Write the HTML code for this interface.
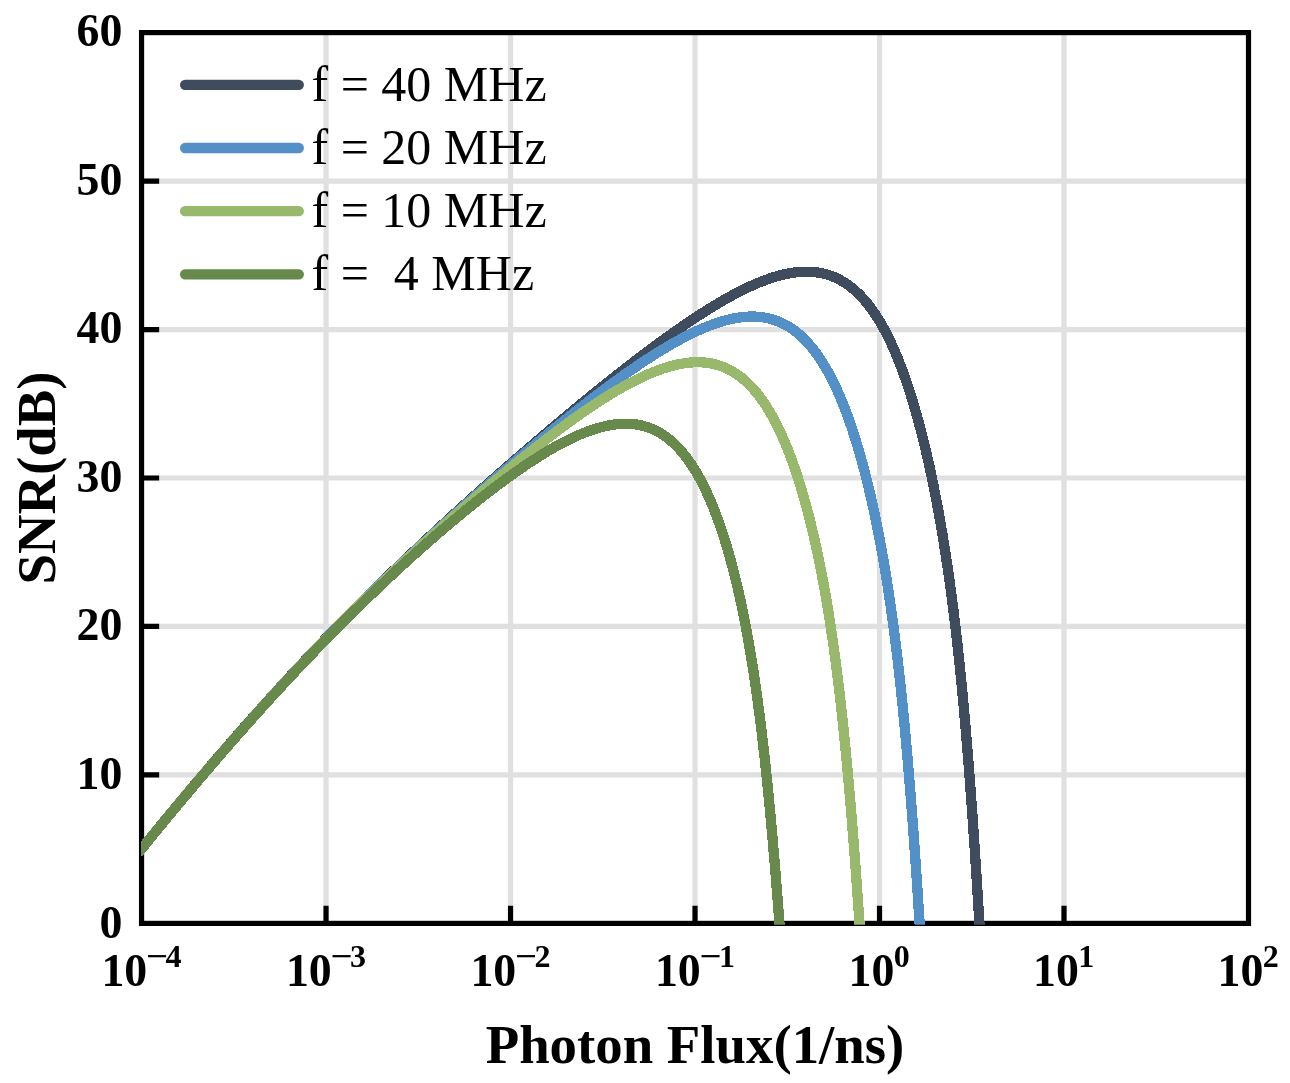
<!DOCTYPE html>
<html><head><meta charset="utf-8"><title>SNR vs Photon Flux</title>
<style>html,body{margin:0;padding:0;background:#fff}svg{display:block}text{font-family:"Liberation Serif","DejaVu Serif",serif}</style></head><body>
<svg width="1290" height="1083" viewBox="0 0 1290 1083">
<rect width="1290" height="1083" fill="#fff"/>
<path d="M326.04,32.60 V923.40 M510.53,32.60 V923.40 M695.03,32.60 V923.40 M879.52,32.60 V923.40 M1064.01,32.60 V923.40 M141.55,774.93 H1248.50 M141.55,626.47 H1248.50 M141.55,478.00 H1248.50 M141.55,329.53 H1248.50 M141.55,181.07 H1248.50" stroke="#e0e0e0" stroke-width="5.20" fill="none"/>
<path d="M326.04,923.40 v-17.60 M510.53,923.40 v-17.60 M695.03,923.40 v-17.60 M879.52,923.40 v-17.60 M1064.01,923.40 v-17.60 M141.55,774.93 h17.60 M141.55,626.47 h17.60 M141.55,478.00 h17.60 M141.55,329.53 h17.60 M141.55,181.07 h17.60" stroke="#000" stroke-width="5.20" fill="none"/>
<rect x="141.55" y="32.60" width="1106.95" height="890.80" fill="none" stroke="#000" stroke-width="5.20"/>
<defs><clipPath id="c"><rect x="141.20" y="32.60" width="1107.30" height="892.20"/></clipPath></defs>
<g clip-path="url(#c)" fill="none" stroke-width="10.30" stroke-linejoin="round" shape-rendering="crispEdges">
<path d="M137.86,853.38 L143.46,846.47 L149.05,839.58 L154.65,832.73 L160.25,825.90 L165.84,819.10 L171.44,812.33 L177.03,805.59 L182.63,798.88 L188.23,792.20 L193.82,785.55 L199.42,778.93 L205.02,772.35 L210.61,765.79 L216.21,759.26 L221.80,752.77 L227.40,746.31 L233.00,739.88 L238.59,733.49 L244.19,727.13 L249.79,720.80 L255.38,714.51 L260.98,708.25 L266.57,702.03 L272.17,695.84 L277.77,689.69 L283.36,683.57 L288.96,677.49 L294.56,671.45 L300.15,665.45 L305.75,659.48 L311.34,653.55 L316.94,647.66 L322.54,641.80 L328.13,635.99 L333.73,630.21 L339.33,624.48 L344.92,618.78 L350.52,613.12 L356.11,607.49 L361.71,601.90 L367.31,596.35 L372.90,590.82 L378.50,585.34 L384.10,579.88 L389.69,574.46 L395.29,569.06 L400.88,563.70 L406.48,558.37 L412.08,553.06 L417.67,547.79 L423.27,542.54 L428.87,537.32 L434.46,532.13 L440.06,526.96 L445.65,521.82 L451.25,516.70 L456.85,511.61 L462.44,506.54 L468.04,501.49 L473.63,496.47 L474.47,495.72 L475.31,494.97 L476.15,494.22 L476.98,493.47 L477.82,492.72 L478.66,491.98 L479.50,491.23 L480.33,490.48 L481.17,489.74 L482.01,488.99 L482.85,488.25 L483.68,487.50 L484.52,486.76 L485.36,486.01 L486.19,485.27 L487.03,484.53 L487.87,483.79 L488.71,483.04 L489.54,482.30 L490.38,481.56 L491.22,480.82 L492.06,480.08 L492.89,479.34 L493.73,478.60 L494.57,477.86 L495.40,477.13 L496.24,476.39 L497.08,475.65 L497.92,474.92 L498.75,474.18 L499.59,473.44 L500.43,472.71 L501.27,471.97 L502.10,471.24 L502.94,470.50 L503.78,469.77 L504.61,469.04 L505.45,468.30 L506.29,467.57 L507.13,466.84 L507.96,466.11 L508.80,465.38 L509.64,464.65 L510.48,463.92 L511.31,463.19 L512.15,462.46 L512.99,461.73 L513.82,461.00 L514.66,460.27 L515.50,459.55 L516.34,458.82 L517.17,458.09 L518.01,457.37 L518.85,456.64 L519.69,455.91 L520.52,455.19 L521.36,454.47 L522.20,453.74 L523.03,453.02 L523.87,452.29 L524.71,451.57 L525.55,450.85 L526.38,450.13 L527.22,449.41 L528.06,448.69 L528.90,447.96 L529.73,447.24 L530.57,446.53 L531.41,445.81 L532.25,445.09 L533.08,444.37 L533.92,443.65 L534.76,442.93 L535.59,442.22 L536.43,441.50 L537.27,440.79 L538.11,440.07 L538.94,439.35 L539.78,438.64 L540.62,437.93 L541.46,437.21 L542.29,436.50 L543.13,435.79 L543.97,435.07 L544.80,434.36 L545.64,433.65 L546.48,432.94 L547.32,432.23 L548.15,431.52 L548.99,430.81 L549.83,430.10 L550.67,429.40 L551.50,428.69 L552.34,427.98 L553.18,427.27 L554.01,426.57 L554.85,425.86 L555.69,425.16 L556.53,424.45 L557.36,423.75 L558.20,423.04 L559.04,422.34 L559.88,421.64 L560.71,420.94 L561.55,420.23 L562.39,419.53 L563.22,418.83 L564.06,418.13 L564.90,417.43 L565.74,416.73 L566.57,416.04 L567.41,415.34 L568.25,414.64 L569.09,413.94 L569.92,413.25 L570.76,412.55 L571.60,411.86 L572.43,411.16 L573.27,410.47 L574.11,409.77 L574.95,409.08 L575.78,408.39 L576.62,407.70 L577.46,407.00 L578.30,406.31 L579.13,405.62 L579.97,404.93 L580.81,404.24 L581.64,403.56 L582.48,402.87 L583.32,402.18 L584.16,401.49 L584.99,400.81 L585.83,400.12 L586.67,399.44 L587.51,398.75 L588.34,398.07 L589.18,397.39 L590.02,396.70 L590.86,396.02 L591.69,395.34 L592.53,394.66 L593.37,393.98 L594.20,393.30 L595.04,392.62 L595.88,391.95 L596.72,391.27 L597.55,390.59 L598.39,389.92 L599.23,389.24 L600.07,388.56 L600.90,387.89 L601.74,387.22 L602.58,386.54 L603.41,385.87 L604.25,385.20 L605.09,384.53 L605.93,383.86 L606.76,383.19 L607.60,382.52 L608.44,381.85 L609.28,381.19 L610.11,380.52 L610.95,379.86 L611.79,379.19 L612.62,378.53 L613.46,377.86 L614.30,377.20 L615.14,376.54 L615.97,375.88 L616.81,375.22 L617.65,374.56 L618.49,373.90 L619.32,373.24 L620.16,372.58 L621.00,371.93 L621.83,371.27 L622.67,370.61 L623.51,369.96 L624.35,369.31 L625.18,368.65 L626.02,368.00 L626.86,367.35 L627.70,366.70 L628.53,366.05 L629.37,365.40 L630.21,364.76 L631.04,364.11 L631.88,363.46 L632.72,362.82 L633.56,362.17 L634.39,361.53 L635.23,360.89 L636.07,360.25 L636.91,359.61 L637.74,358.97 L638.58,358.33 L639.42,357.69 L640.25,357.05 L641.09,356.42 L641.93,355.78 L642.77,355.15 L643.60,354.52 L644.44,353.88 L645.28,353.25 L646.12,352.62 L646.95,351.99 L647.79,351.36 L648.63,350.74 L649.47,350.11 L650.30,349.49 L651.14,348.86 L651.98,348.24 L652.81,347.62 L653.65,347.00 L654.49,346.38 L655.33,345.76 L656.16,345.14 L657.00,344.53 L657.84,343.91 L658.68,343.30 L659.51,342.68 L660.35,342.07 L661.19,341.46 L662.02,340.85 L662.86,340.24 L663.70,339.64 L664.54,339.03 L665.37,338.43 L666.21,337.82 L667.05,337.22 L667.89,336.62 L668.72,336.02 L669.56,335.42 L670.40,334.82 L671.23,334.23 L672.07,333.63 L672.91,333.04 L673.75,332.45 L674.58,331.86 L675.42,331.27 L676.26,330.68 L677.10,330.09 L677.93,329.51 L678.77,328.93 L679.61,328.34 L680.44,327.76 L681.28,327.18 L682.12,326.61 L682.96,326.03 L683.79,325.45 L684.63,324.88 L685.47,324.31 L686.31,323.74 L687.14,323.17 L687.98,322.60 L688.82,322.04 L689.65,321.47 L690.49,320.91 L691.33,320.35 L692.17,319.79 L693.00,319.24 L693.84,318.68 L694.68,318.13 L695.52,317.57 L696.35,317.02 L697.19,316.47 L698.03,315.93 L698.86,315.38 L699.70,314.84 L700.54,314.30 L701.38,313.76 L702.21,313.22 L703.05,312.68 L703.89,312.15 L704.73,311.62 L705.56,311.09 L706.40,310.56 L707.24,310.03 L708.08,309.51 L708.91,308.99 L709.75,308.47 L710.59,307.95 L711.42,307.44 L712.26,306.92 L713.10,306.41 L713.94,305.90 L714.77,305.39 L715.61,304.89 L716.45,304.39 L717.29,303.89 L718.12,303.39 L718.96,302.89 L719.80,302.40 L720.63,301.91 L721.47,301.42 L722.31,300.94 L723.15,300.45 L723.98,299.97 L724.82,299.49 L725.66,299.02 L726.50,298.55 L727.33,298.08 L728.17,297.61 L729.01,297.14 L729.84,296.68 L730.68,296.22 L731.52,295.76 L732.36,295.31 L733.19,294.86 L734.03,294.41 L734.87,293.96 L735.71,293.52 L736.54,293.08 L737.38,292.65 L738.22,292.21 L739.05,291.78 L739.89,291.36 L740.73,290.93 L741.57,290.51 L742.40,290.09 L743.24,289.68 L744.08,289.27 L744.92,288.86 L745.75,288.46 L746.59,288.05 L747.43,287.66 L748.26,287.26 L749.10,286.87 L749.94,286.49 L750.78,286.10 L751.61,285.72 L752.45,285.35 L753.29,284.98 L754.13,284.61 L754.96,284.24 L755.80,283.88 L756.64,283.53 L757.47,283.18 L758.31,282.83 L759.15,282.48 L759.99,282.14 L760.82,281.81 L761.66,281.48 L762.50,281.15 L763.34,280.83 L764.17,280.51 L765.01,280.19 L765.85,279.89 L766.69,279.58 L767.52,279.28 L768.36,278.98 L769.20,278.69 L770.03,278.41 L770.87,278.13 L771.71,277.85 L772.55,277.58 L773.38,277.31 L774.22,277.05 L775.06,276.80 L775.90,276.55 L776.73,276.30 L777.57,276.06 L778.41,275.83 L779.24,275.60 L780.08,275.38 L780.92,275.16 L781.76,274.95 L782.59,274.74 L783.43,274.54 L784.27,274.35 L785.11,274.16 L785.94,273.98 L786.78,273.81 L787.62,273.64 L788.45,273.47 L789.29,273.32 L790.13,273.17 L790.97,273.02 L791.80,272.89 L792.64,272.76 L793.48,272.64 L794.32,272.52 L795.15,272.41 L795.99,272.31 L796.83,272.21 L797.66,272.13 L798.50,272.05 L799.34,271.98 L800.18,271.91 L801.01,271.85 L801.85,271.81 L802.69,271.76 L803.53,271.73 L804.36,271.71 L805.20,271.69 L806.04,271.68 L806.87,271.68 L807.71,271.69 L808.55,271.71 L809.39,271.73 L810.22,271.77 L811.06,271.81 L811.90,271.87 L812.74,271.93 L813.57,272.00 L814.41,272.08 L815.25,272.17 L816.09,272.28 L816.92,272.39 L817.76,272.51 L818.60,272.64 L819.43,272.78 L820.27,272.93 L821.11,273.09 L821.95,273.27 L822.78,273.45 L823.62,273.65 L824.46,273.85 L825.30,274.07 L826.13,274.30 L826.97,274.54 L827.81,274.79 L828.64,275.06 L829.48,275.33 L830.32,275.62 L831.16,275.92 L831.99,276.24 L832.83,276.56 L833.67,276.90 L834.51,277.25 L835.34,277.62 L836.18,278.00 L837.02,278.39 L837.85,278.80 L838.69,279.22 L839.53,279.65 L840.37,280.10 L841.20,280.57 L842.04,281.04 L842.88,281.54 L843.72,282.04 L844.55,282.57 L845.39,283.11 L846.23,283.66 L847.06,284.23 L847.90,284.82 L848.74,285.42 L849.58,286.04 L850.41,286.68 L851.25,287.33 L852.09,288.01 L852.93,288.69 L853.76,289.40 L854.60,290.13 L855.44,290.87 L856.27,291.63 L857.11,292.41 L857.95,293.21 L858.79,294.02 L859.62,294.86 L860.46,295.72 L861.30,296.59 L862.14,297.49 L862.97,298.41 L863.81,299.35 L864.65,300.31 L865.48,301.29 L866.32,302.29 L867.16,303.31 L868.00,304.36 L868.83,305.42 L869.67,306.52 L870.51,307.63 L871.35,308.77 L872.18,309.93 L873.02,311.11 L873.86,312.32 L874.70,313.55 L875.53,314.81 L876.37,316.09 L877.21,317.40 L878.04,318.73 L878.88,320.09 L879.72,321.48 L880.56,322.89 L881.39,324.33 L882.23,325.80 L883.07,327.29 L883.91,328.82 L884.74,330.37 L885.58,331.95 L886.42,333.56 L887.25,335.20 L888.09,336.87 L888.93,338.57 L889.77,340.30 L890.60,342.06 L891.44,343.85 L892.28,345.67 L893.12,347.53 L893.95,349.42 L894.79,351.34 L895.63,353.30 L896.46,355.29 L897.30,357.31 L898.14,359.37 L898.98,361.46 L899.81,363.59 L900.65,365.76 L901.49,367.96 L902.33,370.20 L903.16,372.48 L904.00,374.79 L904.84,377.15 L905.67,379.54 L906.51,381.97 L907.35,384.45 L908.19,386.96 L909.02,389.51 L909.86,392.11 L910.70,394.75 L911.54,397.43 L912.37,400.16 L913.21,402.93 L914.05,405.74 L914.88,408.60 L915.72,411.51 L916.56,414.46 L917.40,417.46 L918.23,420.51 L919.07,423.61 L919.91,426.76 L920.75,429.96 L921.58,433.21 L922.42,436.52 L923.26,439.87 L924.09,443.29 L924.93,446.75 L925.77,450.28 L926.61,453.86 L927.44,457.50 L928.28,461.20 L929.12,464.96 L929.96,468.79 L930.79,472.68 L931.63,476.63 L932.47,480.65 L933.31,484.75 L934.14,488.91 L934.98,493.14 L935.82,497.45 L936.65,501.83 L937.49,506.30 L938.33,510.84 L939.17,515.47 L940.00,520.18 L940.84,524.98 L941.68,529.88 L942.52,534.87 L943.35,539.95 L944.19,545.14 L945.03,550.44 L945.86,555.84 L946.70,561.36 L947.54,566.99 L948.38,572.75 L949.21,578.63 L950.05,584.65 L950.89,590.80 L951.73,597.09 L952.56,603.54 L953.40,610.14 L954.24,616.90 L955.07,623.83 L955.91,630.93 L956.75,638.21 L957.59,645.68 L958.42,653.34 L959.26,661.20 L960.10,669.27 L960.94,677.56 L961.77,686.06 L962.61,694.79 L963.45,703.75 L964.28,712.95 L965.12,722.39 L965.96,732.08 L966.80,742.02 L967.63,752.22 L968.47,762.67 L969.31,773.38 L970.15,784.35 L970.98,795.59 L971.82,807.09 L972.66,818.85 L973.49,830.88 L974.33,843.17 L975.17,855.71 L976.01,868.52 L976.84,881.58 L977.68,894.90 L978.52,908.47 L979.36,922.29 L980.19,936.35 L981.03,950.65 L981.87,965.20" stroke="#3f4c5e"/>
<path d="M137.86,853.39 L143.46,846.48 L149.05,839.60 L154.65,832.74 L160.25,825.92 L165.84,819.12 L171.44,812.35 L177.03,805.61 L182.63,798.90 L188.23,792.23 L193.82,785.58 L199.42,778.96 L205.02,772.37 L210.61,765.82 L216.21,759.30 L221.80,752.81 L227.40,746.35 L233.00,739.92 L238.59,733.53 L244.19,727.17 L249.79,720.85 L255.38,714.56 L260.98,708.31 L266.57,702.09 L272.17,695.91 L277.77,689.76 L283.36,683.65 L288.96,677.57 L294.56,671.54 L300.15,665.54 L305.75,659.58 L311.34,653.65 L316.94,647.77 L322.54,641.93 L328.13,636.12 L333.73,630.36 L339.33,624.63 L344.92,618.94 L350.52,613.29 L356.11,607.68 L361.71,602.10 L367.31,596.56 L372.90,591.05 L378.50,585.58 L384.10,580.14 L389.69,574.74 L395.29,569.37 L400.88,564.03 L406.48,558.72 L412.08,553.44 L417.67,548.19 L423.27,542.97 L428.87,537.78 L434.46,532.62 L440.06,527.49 L445.65,522.39 L451.25,517.31 L456.85,512.26 L462.44,507.24 L468.04,502.24 L473.63,497.28 L474.47,496.53 L475.31,495.79 L476.15,495.05 L476.98,494.31 L477.82,493.57 L478.66,492.84 L479.50,492.10 L480.33,491.36 L481.17,490.62 L482.01,489.89 L482.85,489.15 L483.68,488.42 L484.52,487.68 L485.36,486.95 L486.19,486.22 L487.03,485.48 L487.87,484.75 L488.71,484.02 L489.54,483.29 L490.38,482.56 L491.22,481.83 L492.06,481.10 L492.89,480.37 L493.73,479.64 L494.57,478.92 L495.40,478.19 L496.24,477.46 L497.08,476.74 L497.92,476.01 L498.75,475.29 L499.59,474.56 L500.43,473.84 L501.27,473.12 L502.10,472.39 L502.94,471.67 L503.78,470.95 L504.61,470.23 L505.45,469.51 L506.29,468.79 L507.13,468.07 L507.96,467.35 L508.80,466.64 L509.64,465.92 L510.48,465.20 L511.31,464.49 L512.15,463.77 L512.99,463.06 L513.82,462.34 L514.66,461.63 L515.50,460.92 L516.34,460.20 L517.17,459.49 L518.01,458.78 L518.85,458.07 L519.69,457.36 L520.52,456.65 L521.36,455.94 L522.20,455.23 L523.03,454.52 L523.87,453.82 L524.71,453.11 L525.55,452.40 L526.38,451.70 L527.22,450.99 L528.06,450.29 L528.90,449.59 L529.73,448.88 L530.57,448.18 L531.41,447.48 L532.25,446.78 L533.08,446.08 L533.92,445.38 L534.76,444.68 L535.59,443.98 L536.43,443.28 L537.27,442.59 L538.11,441.89 L538.94,441.20 L539.78,440.50 L540.62,439.81 L541.46,439.11 L542.29,438.42 L543.13,437.73 L543.97,437.04 L544.80,436.35 L545.64,435.66 L546.48,434.97 L547.32,434.28 L548.15,433.59 L548.99,432.90 L549.83,432.22 L550.67,431.53 L551.50,430.85 L552.34,430.16 L553.18,429.48 L554.01,428.80 L554.85,428.11 L555.69,427.43 L556.53,426.75 L557.36,426.07 L558.20,425.39 L559.04,424.72 L559.88,424.04 L560.71,423.36 L561.55,422.69 L562.39,422.01 L563.22,421.34 L564.06,420.66 L564.90,419.99 L565.74,419.32 L566.57,418.65 L567.41,417.98 L568.25,417.31 L569.09,416.64 L569.92,415.97 L570.76,415.31 L571.60,414.64 L572.43,413.98 L573.27,413.31 L574.11,412.65 L574.95,411.99 L575.78,411.33 L576.62,410.67 L577.46,410.01 L578.30,409.35 L579.13,408.69 L579.97,408.03 L580.81,407.38 L581.64,406.72 L582.48,406.07 L583.32,405.42 L584.16,404.77 L584.99,404.11 L585.83,403.46 L586.67,402.82 L587.51,402.17 L588.34,401.52 L589.18,400.88 L590.02,400.23 L590.86,399.59 L591.69,398.94 L592.53,398.30 L593.37,397.66 L594.20,397.02 L595.04,396.38 L595.88,395.75 L596.72,395.11 L597.55,394.47 L598.39,393.84 L599.23,393.21 L600.07,392.58 L600.90,391.94 L601.74,391.32 L602.58,390.69 L603.41,390.06 L604.25,389.43 L605.09,388.81 L605.93,388.19 L606.76,387.56 L607.60,386.94 L608.44,386.32 L609.28,385.70 L610.11,385.09 L610.95,384.47 L611.79,383.85 L612.62,383.24 L613.46,382.63 L614.30,382.02 L615.14,381.41 L615.97,380.80 L616.81,380.19 L617.65,379.59 L618.49,378.98 L619.32,378.38 L620.16,377.78 L621.00,377.18 L621.83,376.58 L622.67,375.98 L623.51,375.39 L624.35,374.79 L625.18,374.20 L626.02,373.61 L626.86,373.02 L627.70,372.43 L628.53,371.84 L629.37,371.26 L630.21,370.68 L631.04,370.09 L631.88,369.51 L632.72,368.93 L633.56,368.36 L634.39,367.78 L635.23,367.21 L636.07,366.64 L636.91,366.07 L637.74,365.50 L638.58,364.93 L639.42,364.37 L640.25,363.80 L641.09,363.24 L641.93,362.68 L642.77,362.12 L643.60,361.57 L644.44,361.01 L645.28,360.46 L646.12,359.91 L646.95,359.36 L647.79,358.81 L648.63,358.27 L649.47,357.73 L650.30,357.19 L651.14,356.65 L651.98,356.11 L652.81,355.58 L653.65,355.04 L654.49,354.51 L655.33,353.98 L656.16,353.46 L657.00,352.93 L657.84,352.41 L658.68,351.89 L659.51,351.38 L660.35,350.86 L661.19,350.35 L662.02,349.84 L662.86,349.33 L663.70,348.82 L664.54,348.32 L665.37,347.82 L666.21,347.32 L667.05,346.83 L667.89,346.33 L668.72,345.84 L669.56,345.35 L670.40,344.87 L671.23,344.38 L672.07,343.90 L672.91,343.43 L673.75,342.95 L674.58,342.48 L675.42,342.01 L676.26,341.54 L677.10,341.08 L677.93,340.62 L678.77,340.16 L679.61,339.70 L680.44,339.25 L681.28,338.80 L682.12,338.35 L682.96,337.91 L683.79,337.47 L684.63,337.03 L685.47,336.60 L686.31,336.17 L687.14,335.74 L687.98,335.32 L688.82,334.90 L689.65,334.48 L690.49,334.06 L691.33,333.65 L692.17,333.25 L693.00,332.84 L693.84,332.44 L694.68,332.05 L695.52,331.65 L696.35,331.26 L697.19,330.88 L698.03,330.50 L698.86,330.12 L699.70,329.74 L700.54,329.37 L701.38,329.01 L702.21,328.65 L703.05,328.29 L703.89,327.93 L704.73,327.58 L705.56,327.24 L706.40,326.90 L707.24,326.56 L708.08,326.23 L708.91,325.90 L709.75,325.58 L710.59,325.26 L711.42,324.94 L712.26,324.63 L713.10,324.33 L713.94,324.03 L714.77,323.73 L715.61,323.44 L716.45,323.15 L717.29,322.87 L718.12,322.60 L718.96,322.33 L719.80,322.06 L720.63,321.80 L721.47,321.55 L722.31,321.30 L723.15,321.05 L723.98,320.81 L724.82,320.58 L725.66,320.35 L726.50,320.13 L727.33,319.92 L728.17,319.71 L729.01,319.50 L729.84,319.31 L730.68,319.12 L731.52,318.93 L732.36,318.75 L733.19,318.58 L734.03,318.41 L734.87,318.25 L735.71,318.10 L736.54,317.95 L737.38,317.81 L738.22,317.68 L739.05,317.56 L739.89,317.44 L740.73,317.33 L741.57,317.22 L742.40,317.13 L743.24,317.04 L744.08,316.95 L744.92,316.88 L745.75,316.81 L746.59,316.76 L747.43,316.70 L748.26,316.66 L749.10,316.63 L749.94,316.60 L750.78,316.58 L751.61,316.58 L752.45,316.57 L753.29,316.58 L754.13,316.60 L754.96,316.63 L755.80,316.66 L756.64,316.70 L757.47,316.76 L758.31,316.82 L759.15,316.89 L759.99,316.97 L760.82,317.07 L761.66,317.17 L762.50,317.28 L763.34,317.40 L764.17,317.53 L765.01,317.68 L765.85,317.83 L766.69,318.00 L767.52,318.17 L768.36,318.36 L769.20,318.55 L770.03,318.76 L770.87,318.98 L771.71,319.22 L772.55,319.46 L773.38,319.72 L774.22,319.98 L775.06,320.26 L775.90,320.56 L776.73,320.86 L777.57,321.18 L778.41,321.51 L779.24,321.85 L780.08,322.21 L780.92,322.58 L781.76,322.97 L782.59,323.37 L783.43,323.78 L784.27,324.21 L785.11,324.65 L785.94,325.10 L786.78,325.57 L787.62,326.06 L788.45,326.56 L789.29,327.08 L790.13,327.61 L790.97,328.15 L791.80,328.72 L792.64,329.30 L793.48,329.89 L794.32,330.51 L795.15,331.14 L795.99,331.78 L796.83,332.45 L797.66,333.13 L798.50,333.83 L799.34,334.55 L800.18,335.28 L801.01,336.04 L801.85,336.81 L802.69,337.60 L803.53,338.42 L804.36,339.25 L805.20,340.10 L806.04,340.97 L806.87,341.86 L807.71,342.77 L808.55,343.71 L809.39,344.66 L810.22,345.63 L811.06,346.63 L811.90,347.65 L812.74,348.69 L813.57,349.75 L814.41,350.84 L815.25,351.95 L816.09,353.08 L816.92,354.24 L817.76,355.42 L818.60,356.63 L819.43,357.86 L820.27,359.11 L821.11,360.39 L821.95,361.70 L822.78,363.03 L823.62,364.38 L824.46,365.77 L825.30,367.18 L826.13,368.62 L826.97,370.09 L827.81,371.58 L828.64,373.10 L829.48,374.65 L830.32,376.23 L831.16,377.84 L831.99,379.48 L832.83,381.15 L833.67,382.86 L834.51,384.59 L835.34,386.35 L836.18,388.15 L837.02,389.97 L837.85,391.83 L838.69,393.73 L839.53,395.66 L840.37,397.62 L841.20,399.61 L842.04,401.64 L842.88,403.71 L843.72,405.81 L844.55,407.95 L845.39,410.13 L846.23,412.34 L847.06,414.59 L847.90,416.88 L848.74,419.21 L849.58,421.57 L850.41,423.98 L851.25,426.43 L852.09,428.92 L852.93,431.45 L853.76,434.03 L854.60,436.65 L855.44,439.31 L856.27,442.02 L857.11,444.77 L857.95,447.57 L858.79,450.41 L859.62,453.30 L860.46,456.24 L861.30,459.23 L862.14,462.27 L862.97,465.37 L863.81,468.51 L864.65,471.71 L865.48,474.96 L866.32,478.26 L867.16,481.63 L868.00,485.04 L868.83,488.52 L869.67,492.06 L870.51,495.66 L871.35,499.32 L872.18,503.05 L873.02,506.84 L873.86,510.71 L874.70,514.64 L875.53,518.64 L876.37,522.71 L877.21,526.86 L878.04,531.09 L878.88,535.40 L879.72,539.78 L880.56,544.26 L881.39,548.82 L882.23,553.47 L883.07,558.22 L883.91,563.06 L884.74,568.00 L885.58,573.05 L886.42,578.21 L887.25,583.47 L888.09,588.85 L888.93,594.35 L889.77,599.98 L890.60,605.73 L891.44,611.62 L892.28,617.65 L893.12,623.82 L893.95,630.15 L894.79,636.63 L895.63,643.27 L896.46,650.07 L897.30,657.05 L898.14,664.21 L898.98,671.56 L899.81,679.09 L900.65,686.82 L901.49,694.76 L902.33,702.90 L903.16,711.25 L904.00,719.83 L904.84,728.62 L905.67,737.65 L906.51,746.90 L907.35,756.39 L908.19,766.11 L909.02,776.08 L909.86,786.28 L910.70,796.73 L911.54,807.42 L912.37,818.36 L913.21,829.55 L914.05,840.97 L914.88,852.65 L915.72,864.56 L916.56,876.72 L917.40,889.11 L918.23,901.74 L919.07,914.61 L919.91,927.71 L920.75,941.05 L921.58,954.61" stroke="#5390c8"/>
<path d="M137.86,853.41 L143.46,846.51 L149.05,839.63 L154.65,832.77 L160.25,825.95 L165.84,819.15 L171.44,812.39 L177.03,805.65 L182.63,798.95 L188.23,792.27 L193.82,785.63 L199.42,779.01 L205.02,772.43 L210.61,765.88 L216.21,759.36 L221.80,752.88 L227.40,746.42 L233.00,740.00 L238.59,733.62 L244.19,727.27 L249.79,720.95 L255.38,714.67 L260.98,708.42 L266.57,702.21 L272.17,696.04 L277.77,689.90 L283.36,683.80 L288.96,677.73 L294.56,671.71 L300.15,665.72 L305.75,659.77 L311.34,653.87 L316.94,648.00 L322.54,642.17 L328.13,636.38 L333.73,630.64 L339.33,624.93 L344.92,619.26 L350.52,613.64 L356.11,608.05 L361.71,602.50 L367.31,596.99 L372.90,591.51 L378.50,586.07 L384.10,580.67 L389.69,575.30 L395.29,569.97 L400.88,564.68 L406.48,559.41 L412.08,554.19 L417.67,548.99 L423.27,543.83 L428.87,538.71 L434.46,533.62 L440.06,528.56 L445.65,523.53 L451.25,518.54 L456.85,513.58 L462.44,508.65 L468.04,503.76 L473.63,498.90 L474.47,498.18 L475.31,497.46 L476.15,496.73 L476.98,496.01 L477.82,495.29 L478.66,494.57 L479.50,493.85 L480.33,493.13 L481.17,492.41 L482.01,491.70 L482.85,490.98 L483.68,490.27 L484.52,489.55 L485.36,488.84 L486.19,488.12 L487.03,487.41 L487.87,486.70 L488.71,485.99 L489.54,485.28 L490.38,484.57 L491.22,483.86 L492.06,483.15 L492.89,482.45 L493.73,481.74 L494.57,481.04 L495.40,480.33 L496.24,479.63 L497.08,478.93 L497.92,478.22 L498.75,477.52 L499.59,476.82 L500.43,476.12 L501.27,475.43 L502.10,474.73 L502.94,474.03 L503.78,473.34 L504.61,472.64 L505.45,471.95 L506.29,471.25 L507.13,470.56 L507.96,469.87 L508.80,469.18 L509.64,468.49 L510.48,467.80 L511.31,467.11 L512.15,466.42 L512.99,465.74 L513.82,465.05 L514.66,464.37 L515.50,463.68 L516.34,463.00 L517.17,462.32 L518.01,461.64 L518.85,460.96 L519.69,460.28 L520.52,459.60 L521.36,458.92 L522.20,458.24 L523.03,457.57 L523.87,456.89 L524.71,456.22 L525.55,455.55 L526.38,454.88 L527.22,454.21 L528.06,453.54 L528.90,452.87 L529.73,452.20 L530.57,451.53 L531.41,450.87 L532.25,450.21 L533.08,449.54 L533.92,448.88 L534.76,448.22 L535.59,447.56 L536.43,446.90 L537.27,446.24 L538.11,445.58 L538.94,444.93 L539.78,444.27 L540.62,443.62 L541.46,442.97 L542.29,442.32 L543.13,441.67 L543.97,441.02 L544.80,440.37 L545.64,439.72 L546.48,439.08 L547.32,438.44 L548.15,437.79 L548.99,437.15 L549.83,436.51 L550.67,435.87 L551.50,435.23 L552.34,434.60 L553.18,433.96 L554.01,433.33 L554.85,432.69 L555.69,432.06 L556.53,431.43 L557.36,430.80 L558.20,430.18 L559.04,429.55 L559.88,428.93 L560.71,428.30 L561.55,427.68 L562.39,427.06 L563.22,426.44 L564.06,425.82 L564.90,425.21 L565.74,424.59 L566.57,423.98 L567.41,423.37 L568.25,422.76 L569.09,422.15 L569.92,421.54 L570.76,420.94 L571.60,420.33 L572.43,419.73 L573.27,419.13 L574.11,418.53 L574.95,417.93 L575.78,417.33 L576.62,416.74 L577.46,416.15 L578.30,415.56 L579.13,414.97 L579.97,414.38 L580.81,413.79 L581.64,413.21 L582.48,412.63 L583.32,412.04 L584.16,411.47 L584.99,410.89 L585.83,410.31 L586.67,409.74 L587.51,409.17 L588.34,408.60 L589.18,408.03 L590.02,407.46 L590.86,406.90 L591.69,406.34 L592.53,405.78 L593.37,405.22 L594.20,404.66 L595.04,404.11 L595.88,403.56 L596.72,403.01 L597.55,402.46 L598.39,401.92 L599.23,401.37 L600.07,400.83 L600.90,400.29 L601.74,399.76 L602.58,399.22 L603.41,398.69 L604.25,398.16 L605.09,397.63 L605.93,397.11 L606.76,396.58 L607.60,396.06 L608.44,395.54 L609.28,395.03 L610.11,394.52 L610.95,394.00 L611.79,393.50 L612.62,392.99 L613.46,392.49 L614.30,391.99 L615.14,391.49 L615.97,390.99 L616.81,390.50 L617.65,390.01 L618.49,389.53 L619.32,389.04 L620.16,388.56 L621.00,388.08 L621.83,387.61 L622.67,387.13 L623.51,386.66 L624.35,386.20 L625.18,385.73 L626.02,385.27 L626.86,384.81 L627.70,384.36 L628.53,383.91 L629.37,383.46 L630.21,383.01 L631.04,382.57 L631.88,382.13 L632.72,381.70 L633.56,381.27 L634.39,380.84 L635.23,380.41 L636.07,379.99 L636.91,379.57 L637.74,379.16 L638.58,378.75 L639.42,378.34 L640.25,377.94 L641.09,377.54 L641.93,377.14 L642.77,376.75 L643.60,376.36 L644.44,375.98 L645.28,375.60 L646.12,375.22 L646.95,374.85 L647.79,374.48 L648.63,374.12 L649.47,373.76 L650.30,373.40 L651.14,373.05 L651.98,372.70 L652.81,372.36 L653.65,372.02 L654.49,371.69 L655.33,371.36 L656.16,371.04 L657.00,370.72 L657.84,370.40 L658.68,370.09 L659.51,369.79 L660.35,369.49 L661.19,369.19 L662.02,368.90 L662.86,368.61 L663.70,368.34 L664.54,368.06 L665.37,367.79 L666.21,367.53 L667.05,367.27 L667.89,367.02 L668.72,366.77 L669.56,366.53 L670.40,366.29 L671.23,366.06 L672.07,365.84 L672.91,365.62 L673.75,365.40 L674.58,365.20 L675.42,365.00 L676.26,364.80 L677.10,364.62 L677.93,364.44 L678.77,364.26 L679.61,364.09 L680.44,363.93 L681.28,363.78 L682.12,363.63 L682.96,363.49 L683.79,363.35 L684.63,363.23 L685.47,363.11 L686.31,362.99 L687.14,362.89 L687.98,362.79 L688.82,362.70 L689.65,362.62 L690.49,362.54 L691.33,362.48 L692.17,362.42 L693.00,362.37 L693.84,362.33 L694.68,362.29 L695.52,362.27 L696.35,362.25 L697.19,362.24 L698.03,362.24 L698.86,362.25 L699.70,362.27 L700.54,362.29 L701.38,362.33 L702.21,362.38 L703.05,362.43 L703.89,362.49 L704.73,362.57 L705.56,362.65 L706.40,362.75 L707.24,362.85 L708.08,362.97 L708.91,363.09 L709.75,363.23 L710.59,363.37 L711.42,363.53 L712.26,363.70 L713.10,363.88 L713.94,364.07 L714.77,364.27 L715.61,364.48 L716.45,364.71 L717.29,364.94 L718.12,365.19 L718.96,365.45 L719.80,365.72 L720.63,366.01 L721.47,366.31 L722.31,366.62 L723.15,366.94 L723.98,367.28 L724.82,367.63 L725.66,368.00 L726.50,368.37 L727.33,368.77 L728.17,369.17 L729.01,369.59 L729.84,370.03 L730.68,370.48 L731.52,370.94 L732.36,371.42 L733.19,371.92 L734.03,372.43 L734.87,372.95 L735.71,373.50 L736.54,374.05 L737.38,374.63 L738.22,375.22 L739.05,375.83 L739.89,376.45 L740.73,377.09 L741.57,377.75 L742.40,378.43 L743.24,379.13 L744.08,379.84 L744.92,380.57 L745.75,381.32 L746.59,382.09 L747.43,382.88 L748.26,383.69 L749.10,384.51 L749.94,385.36 L750.78,386.23 L751.61,387.12 L752.45,388.02 L753.29,388.95 L754.13,389.91 L754.96,390.88 L755.80,391.87 L756.64,392.89 L757.47,393.93 L758.31,394.99 L759.15,396.07 L759.99,397.18 L760.82,398.31 L761.66,399.47 L762.50,400.65 L763.34,401.85 L764.17,403.08 L765.01,404.34 L765.85,405.62 L766.69,406.93 L767.52,408.26 L768.36,409.62 L769.20,411.00 L770.03,412.42 L770.87,413.86 L771.71,415.33 L772.55,416.82 L773.38,418.35 L774.22,419.91 L775.06,421.49 L775.90,423.11 L776.73,424.75 L777.57,426.43 L778.41,428.14 L779.24,429.88 L780.08,431.65 L780.92,433.45 L781.76,435.29 L782.59,437.16 L783.43,439.06 L784.27,441.00 L785.11,442.98 L785.94,444.99 L786.78,447.03 L787.62,449.11 L788.45,451.23 L789.29,453.39 L790.13,455.58 L790.97,457.81 L791.80,460.09 L792.64,462.40 L793.48,464.75 L794.32,467.14 L795.15,469.58 L795.99,472.06 L796.83,474.58 L797.66,477.14 L798.50,479.75 L799.34,482.41 L800.18,485.11 L801.01,487.86 L801.85,490.66 L802.69,493.50 L803.53,496.40 L804.36,499.34 L805.20,502.34 L806.04,505.39 L806.87,508.50 L807.71,511.66 L808.55,514.87 L809.39,518.15 L810.22,521.48 L811.06,524.88 L811.90,528.33 L812.74,531.85 L813.57,535.44 L814.41,539.09 L815.25,542.81 L816.09,546.60 L816.92,550.46 L817.76,554.40 L818.60,558.41 L819.43,562.51 L820.27,566.68 L821.11,570.94 L821.95,575.29 L822.78,579.72 L823.62,584.25 L824.46,588.87 L825.30,593.60 L826.13,598.42 L826.97,603.35 L827.81,608.40 L828.64,613.55 L829.48,618.83 L830.32,624.22 L831.16,629.75 L831.99,635.40 L832.83,641.19 L833.67,647.12 L834.51,653.20 L835.34,659.43 L836.18,665.81 L837.02,672.36 L837.85,679.07 L838.69,685.95 L839.53,693.02 L840.37,700.26 L841.20,707.69 L842.04,715.31 L842.88,723.13 L843.72,731.14 L844.55,739.37 L845.39,747.80 L846.23,756.44 L847.06,765.30 L847.90,774.38 L848.74,783.68 L849.58,793.20 L850.41,802.95 L851.25,812.92 L852.09,823.12 L852.93,833.54 L853.76,844.19 L854.60,855.07 L855.44,866.18 L856.27,877.51 L857.11,889.07 L857.95,900.84 L858.79,912.85 L859.62,925.07 L860.46,937.50 L861.30,950.16 L862.14,963.03" stroke="#98b86b"/>
<path d="M137.86,853.49 L143.46,846.58 L149.05,839.71 L154.65,832.86 L160.25,826.05 L165.84,819.26 L171.44,812.50 L177.03,805.77 L182.63,799.08 L188.23,792.41 L193.82,785.77 L199.42,779.17 L205.02,772.60 L210.61,766.06 L216.21,759.56 L221.80,753.08 L227.40,746.65 L233.00,740.24 L238.59,733.87 L244.19,727.54 L249.79,721.24 L255.38,714.98 L260.98,708.76 L266.57,702.57 L272.17,696.43 L277.77,690.32 L283.36,684.25 L288.96,678.22 L294.56,672.23 L300.15,666.28 L305.75,660.37 L311.34,654.50 L316.94,648.68 L322.54,642.90 L328.13,637.17 L333.73,631.48 L339.33,625.84 L344.92,620.24 L350.52,614.68 L356.11,609.17 L361.71,603.70 L367.31,598.28 L372.90,592.89 L378.50,587.56 L384.10,582.26 L389.69,577.01 L395.29,571.81 L400.88,566.64 L406.48,561.53 L412.08,556.45 L417.67,551.43 L423.27,546.45 L428.87,541.51 L434.46,536.63 L440.06,531.79 L445.65,527.00 L451.25,522.26 L456.85,517.58 L462.44,512.95 L468.04,508.38 L473.63,503.86 L474.47,503.19 L475.31,502.52 L476.15,501.86 L476.98,501.19 L477.82,500.53 L478.66,499.86 L479.50,499.20 L480.33,498.54 L481.17,497.88 L482.01,497.22 L482.85,496.57 L483.68,495.91 L484.52,495.26 L485.36,494.61 L486.19,493.96 L487.03,493.31 L487.87,492.66 L488.71,492.01 L489.54,491.37 L490.38,490.73 L491.22,490.08 L492.06,489.44 L492.89,488.81 L493.73,488.17 L494.57,487.53 L495.40,486.90 L496.24,486.27 L497.08,485.64 L497.92,485.01 L498.75,484.38 L499.59,483.76 L500.43,483.13 L501.27,482.51 L502.10,481.89 L502.94,481.27 L503.78,480.66 L504.61,480.04 L505.45,479.43 L506.29,478.82 L507.13,478.21 L507.96,477.60 L508.80,476.99 L509.64,476.39 L510.48,475.79 L511.31,475.19 L512.15,474.59 L512.99,473.99 L513.82,473.40 L514.66,472.80 L515.50,472.21 L516.34,471.62 L517.17,471.04 L518.01,470.45 L518.85,469.87 L519.69,469.29 L520.52,468.71 L521.36,468.13 L522.20,467.56 L523.03,466.98 L523.87,466.41 L524.71,465.84 L525.55,465.28 L526.38,464.71 L527.22,464.15 L528.06,463.59 L528.90,463.04 L529.73,462.48 L530.57,461.93 L531.41,461.38 L532.25,460.83 L533.08,460.29 L533.92,459.74 L534.76,459.20 L535.59,458.67 L536.43,458.13 L537.27,457.60 L538.11,457.07 L538.94,456.54 L539.78,456.01 L540.62,455.49 L541.46,454.97 L542.29,454.46 L543.13,453.94 L543.97,453.43 L544.80,452.92 L545.64,452.42 L546.48,451.91 L547.32,451.41 L548.15,450.91 L548.99,450.42 L549.83,449.93 L550.67,449.44 L551.50,448.96 L552.34,448.47 L553.18,447.99 L554.01,447.52 L554.85,447.05 L555.69,446.58 L556.53,446.11 L557.36,445.65 L558.20,445.19 L559.04,444.73 L559.88,444.28 L560.71,443.83 L561.55,443.38 L562.39,442.94 L563.22,442.50 L564.06,442.07 L564.90,441.64 L565.74,441.21 L566.57,440.78 L567.41,440.36 L568.25,439.95 L569.09,439.53 L569.92,439.13 L570.76,438.72 L571.60,438.32 L572.43,437.92 L573.27,437.53 L574.11,437.14 L574.95,436.76 L575.78,436.38 L576.62,436.00 L577.46,435.63 L578.30,435.27 L579.13,434.90 L579.97,434.54 L580.81,434.19 L581.64,433.84 L582.48,433.50 L583.32,433.16 L584.16,432.82 L584.99,432.49 L585.83,432.17 L586.67,431.85 L587.51,431.54 L588.34,431.23 L589.18,430.92 L590.02,430.62 L590.86,430.33 L591.69,430.04 L592.53,429.76 L593.37,429.48 L594.20,429.20 L595.04,428.94 L595.88,428.68 L596.72,428.42 L597.55,428.17 L598.39,427.93 L599.23,427.69 L600.07,427.46 L600.90,427.23 L601.74,427.01 L602.58,426.80 L603.41,426.60 L604.25,426.40 L605.09,426.20 L605.93,426.01 L606.76,425.83 L607.60,425.66 L608.44,425.49 L609.28,425.33 L610.11,425.18 L610.95,425.04 L611.79,424.90 L612.62,424.77 L613.46,424.64 L614.30,424.53 L615.14,424.42 L615.97,424.32 L616.81,424.22 L617.65,424.14 L618.49,424.06 L619.32,423.99 L620.16,423.93 L621.00,423.88 L621.83,423.84 L622.67,423.80 L623.51,423.77 L624.35,423.76 L625.18,423.75 L626.02,423.75 L626.86,423.76 L627.70,423.77 L628.53,423.80 L629.37,423.84 L630.21,423.88 L631.04,423.94 L631.88,424.01 L632.72,424.08 L633.56,424.17 L634.39,424.27 L635.23,424.37 L636.07,424.49 L636.91,424.62 L637.74,424.76 L638.58,424.91 L639.42,425.07 L640.25,425.24 L641.09,425.43 L641.93,425.62 L642.77,425.83 L643.60,426.05 L644.44,426.28 L645.28,426.52 L646.12,426.78 L646.95,427.05 L647.79,427.33 L648.63,427.62 L649.47,427.93 L650.30,428.25 L651.14,428.58 L651.98,428.93 L652.81,429.29 L653.65,429.66 L654.49,430.05 L655.33,430.45 L656.16,430.87 L657.00,431.30 L657.84,431.75 L658.68,432.21 L659.51,432.69 L660.35,433.19 L661.19,433.69 L662.02,434.22 L662.86,434.76 L663.70,435.32 L664.54,435.89 L665.37,436.48 L666.21,437.09 L667.05,437.72 L667.89,438.36 L668.72,439.02 L669.56,439.70 L670.40,440.39 L671.23,441.11 L672.07,441.84 L672.91,442.59 L673.75,443.37 L674.58,444.16 L675.42,444.97 L676.26,445.80 L677.10,446.65 L677.93,447.52 L678.77,448.42 L679.61,449.33 L680.44,450.27 L681.28,451.22 L682.12,452.20 L682.96,453.21 L683.79,454.23 L684.63,455.28 L685.47,456.35 L686.31,457.44 L687.14,458.56 L687.98,459.70 L688.82,460.87 L689.65,462.06 L690.49,463.28 L691.33,464.52 L692.17,465.79 L693.00,467.08 L693.84,468.40 L694.68,469.75 L695.52,471.13 L696.35,472.53 L697.19,473.96 L698.03,475.42 L698.86,476.91 L699.70,478.43 L700.54,479.98 L701.38,481.56 L702.21,483.16 L703.05,484.80 L703.89,486.48 L704.73,488.18 L705.56,489.92 L706.40,491.69 L707.24,493.49 L708.08,495.33 L708.91,497.20 L709.75,499.11 L710.59,501.05 L711.42,503.03 L712.26,505.05 L713.10,507.10 L713.94,509.20 L714.77,511.33 L715.61,513.50 L716.45,515.71 L717.29,517.96 L718.12,520.25 L718.96,522.59 L719.80,524.97 L720.63,527.39 L721.47,529.86 L722.31,532.37 L723.15,534.93 L723.98,537.54 L724.82,540.19 L725.66,542.90 L726.50,545.65 L727.33,548.46 L728.17,551.32 L729.01,554.24 L729.84,557.21 L730.68,560.23 L731.52,563.32 L732.36,566.46 L733.19,569.67 L734.03,572.94 L734.87,576.27 L735.71,579.67 L736.54,583.13 L737.38,586.67 L738.22,590.28 L739.05,593.96 L739.89,597.71 L740.73,601.55 L741.57,605.47 L742.40,609.47 L743.24,613.55 L744.08,617.73 L744.92,622.00 L745.75,626.36 L746.59,630.82 L747.43,635.38 L748.26,640.04 L749.10,644.82 L749.94,649.70 L750.78,654.70 L751.61,659.82 L752.45,665.06 L753.29,670.44 L754.13,675.94 L754.96,681.57 L755.80,687.35 L756.64,693.27 L757.47,699.35 L758.31,705.57 L759.15,711.95 L759.99,718.49 L760.82,725.20 L761.66,732.08 L762.50,739.13 L763.34,746.36 L764.17,753.77 L765.01,761.37 L765.85,769.15 L766.69,777.13 L767.52,785.30 L768.36,793.66 L769.20,802.23 L770.03,810.99 L770.87,819.96 L771.71,829.12 L772.55,838.50 L773.38,848.07 L774.22,857.85 L775.06,867.84 L775.90,878.03 L776.73,888.43 L777.57,899.03 L778.41,909.83 L779.24,920.83 L780.08,932.04 L780.92,943.44 L781.76,955.05 L782.59,966.85" stroke="#68894c"/>
</g>
<g font-weight="bold" font-size="45.83" text-anchor="end">
<text x="122.3" y="938">0</text>
<text x="122.3" y="789">10</text>
<text x="122.3" y="640">20</text>
<text x="122.3" y="492">30</text>
<text x="122.3" y="343">40</text>
<text x="122.3" y="195">50</text>
<text x="122.3" y="46">60</text>
</g>
<g font-weight="bold" font-size="45.83">
<text x="101.45" y="986">10</text>
<text transform="translate(145.84,967) scale(1.207,1)" font-size="32.08">−</text>
<text x="165.45" y="967" font-size="32.08">4</text>
<text x="285.94" y="986">10</text>
<text transform="translate(330.33,967) scale(1.207,1)" font-size="32.08">−</text>
<text x="349.94" y="967" font-size="32.08">3</text>
<text x="470.43" y="986">10</text>
<text transform="translate(514.82,967) scale(1.207,1)" font-size="32.08">−</text>
<text x="534.43" y="967" font-size="32.08">2</text>
<text x="654.93" y="986">10</text>
<text transform="translate(699.32,967) scale(1.207,1)" font-size="32.08">−</text>
<text x="718.93" y="967" font-size="32.08">1</text>
<text x="848.62" y="986">10<tspan dx="-0.8" dy="-19" font-size="32.08">0</tspan></text>
<text x="1033.11" y="986">10<tspan dx="-0.8" dy="-19" font-size="32.08">1</tspan></text>
<text x="1217.60" y="986">10<tspan dx="-0.8" dy="-19" font-size="32.08">2</tspan></text>
</g>
<text x="695" y="1063.1" font-weight="bold" font-size="54.80" text-anchor="middle">Photon Flux(1/ns)</text>
<text transform="translate(55.3,478) rotate(-90)" font-weight="bold" font-size="54.80" text-anchor="middle">SNR(dB)</text>
<path d="M185.1,84.85 H298.8" stroke="#3f4c5e" stroke-width="10.30" stroke-linecap="round" fill="none"/>
<text x="311.5" y="100.95" font-size="50.00">f = 40 MHz</text>
<path d="M185.1,148.00 H298.8" stroke="#5390c8" stroke-width="10.30" stroke-linecap="round" fill="none"/>
<text x="311.5" y="164.10" font-size="50.00">f = 20 MHz</text>
<path d="M185.1,211.15 H298.8" stroke="#98b86b" stroke-width="10.30" stroke-linecap="round" fill="none"/>
<text x="311.5" y="227.25" font-size="50.00">f = 10 MHz</text>
<path d="M185.1,274.30 H298.8" stroke="#68894c" stroke-width="10.30" stroke-linecap="round" fill="none"/>
<text x="311.5" y="290.40" font-size="50.00">f =  4 MHz</text>
</svg></body></html>
